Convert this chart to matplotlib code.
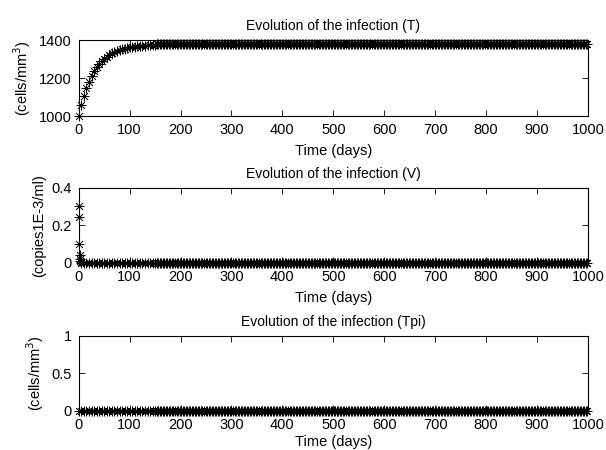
import numpy as np
import matplotlib
matplotlib.use("Agg")
import matplotlib.pyplot as plt

plt.rcParams['font.family'] = ['Liberation Sans', 'DejaVu Sans']
plt.rcParams['font.size'] = 10.5

# time grid (days): every 5 days during the rise, every 3 days after
rise_days = np.arange(0, 151, 5)
flat_days = np.arange(153, 1001, 3)

# T rise, days 0..150
T_rise = [1000, 1057, 1105, 1146, 1181, 1210, 1235, 1256, 1274, 1290,
          1302, 1313, 1322, 1330, 1337, 1342, 1347, 1351, 1355, 1358,
          1361, 1363, 1365, 1367, 1369, 1370, 1371, 1372, 1373, 1374, 1375]
T_plateau = 1378
T_days = list(rise_days) + list(flat_days)
T = T_rise + [T_plateau] * len(flat_days)

# V: spike right at the start, then ~0
V_days_start = [0, 0.5, 1, 1.5, 2, 3, 4]
V_start = [0.245, 0.30, 0.10, 0.04, 0.02, 0.01, 0.005]
V_plateau = 0.0
V_days = V_days_start + list(rise_days[1:]) + list(flat_days)
V = V_start + [V_plateau] * (len(rise_days) - 1 + len(flat_days))

# Tpi: flat at zero
Tpi_plateau = 0.0
Tpi_days = list(rise_days) + list(flat_days)
Tpi = [Tpi_plateau] * len(Tpi_days)

titles = ["Evolution of the infection (T)",
          "Evolution of the infection (V)",
          "Evolution of the infection (Tpi)"]
ylabels = ["(cells/mm$^3$)", "(copies1E-3/ml)", "(cells/mm$^3$)"]
yticks = [[1000, 1200, 1400], [0, 0.2, 0.4], [0, 0.5, 1]]
yticklabels = [["1000", "1200", "1400"], ["0", "0.2", "0.4"], ["0", "0.5", "1"]]
xticks = list(range(0, 1001, 100))

fig = plt.figure(figsize=(6.06, 4.5), dpi=100)
positions = [[0.130, 0.742, 0.840, 0.169],
             [0.130, 0.416, 0.840, 0.167],
             [0.130, 0.087, 0.840, 0.167]]
series = [(T_days, T), (V_days, V), (Tpi_days, Tpi)]
xlabelpads = [5, 5, 2]

# matlab-like asterisk (+ and x together)
asterisk = (8, 2, 0)

for i in range(3):
    ax = fig.add_axes(positions[i])
    x, y = series[i]
    ax.plot(x, y, linestyle='none', marker=asterisk, color='black',
            markersize=7, markeredgewidth=0.5, clip_on=False)
    ax.set_xlim(0, 1000)
    ax.set_ylim(yticks[i][0], yticks[i][-1])
    ax.set_xticks(xticks)
    ax.set_yticks(yticks[i])
    ax.set_yticklabels(yticklabels[i])
    ax.tick_params(direction='in', top=True, right=True, length=4,
                   width=0.6, pad=5)
    for s in ax.spines.values():
        s.set_linewidth(0.8)
    ax.set_title(titles[i], fontsize=10, pad=7)
    ax.set_xlabel("Time (days)", labelpad=xlabelpads[i])
    ax.set_ylabel(ylabels[i], labelpad=4)

fig.savefig("out.png", dpi=100)
